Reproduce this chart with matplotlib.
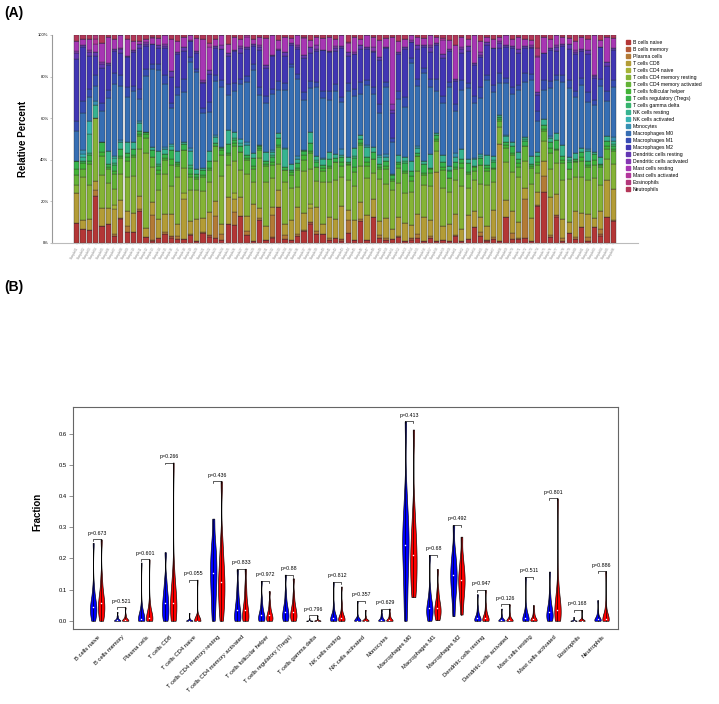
import numpy as np
import matplotlib.pyplot as plt
from matplotlib.colors import hsv_to_rgb
from matplotlib.lines import Line2D

plt.rcParams['font.family'] = ['Liberation Sans', 'DejaVu Sans']

cell_types = ["B cells naive", "B cells memory", "Plasma cells", "T cells CD8",
              "T cells CD4 naive", "T cells CD4 memory resting", "T cells CD4 memory activated",
              "T cells follicular helper", "T cells regulatory (Tregs)", "T cells gamma delta",
              "NK cells resting", "NK cells activated", "Monocytes", "Macrophages M0",
              "Macrophages M1", "Macrophages M2", "Dendritic cells resting",
              "Dendritic cells activated", "Mast cells resting", "Mast cells activated",
              "Eosinophils", "Neutrophils"]

# ---- panel A: relative percent per sample (%)
b_naive = [10,7,7,25,9,11,4,13,6,6, 17,3,1,3,5,3,2,2,5,1, 7,3,3,2,11,11,15,5,1,14,
           2,3,21,2,2,4,7,11,5,5, 2,3,1,6,2,11,2,15,3,2, 2,3,1,2,3,1,3,1,2,1,
           4,1,2,10,4,1,2,1,15,2, 2,3,1,23,26,3,15,1,6,2, 9,1,10,4,15,13]
b_memory = [0,0,0,0,0,0,0,1,0,0, 0,0,1,0,0,1,0,0,0,0, 0,1,0,0,0,0,0,0,0,0,
            0,1,0,0,0,0,0,1,0,0, 0,0,1,0,0,0,0,0,0,0, 0,0,0,1,0,0,0,0,0,0,
            0,0,0,0,0,1,0,0,0,0, 0,0,0,0,0,0,1,0,0,0, 0,0,0,1,0,0]
plasma = [0,0,0,3,0,0,1,0,3,0, 1,0,14,0,1,0,2,0,1,0, 1,0,12,3,0,8,0,2,0,1,
          0,13,0,2,0,1,1,0,2,0, 1,0,0,8,0,1,0,0,2,1, 0,1,0,0,2,0,1,0,0,0,
          1,0,0,0,2,0,1,0,0,3, 1,21,0,1,8,1,0,2,0,1, 0,2,0,3,0,1]
cd8 = [15,5,6,5,9,9,14,10,8,10, 7,5,8,12,10,12,6,20,8,14, 10,12,8,6,15,8,10,9,20,6,
       8,5,10,6,12,16,10,8,14,6, 12,10,18,6,11,8,14,10,8,12, 6,10,9,8,12,14,10,33,8,10,
       12,6,14,10,8,8,15,46,10,12, 9,6,14,8,8,20,12,10,6,14, 8,12,6,10,22,18]
cd4_naive = [0,0,0,0,0,0,2,0,0,0, 0,0,0,0,0,0,0,3,0,0, 0,0,0,0,0,4,0,0,0,0,
             0,0,0,0,0,0,0,2,0,0, 0,0,0,0,0,0,0,0,0,0, 0,0,0,0,0,0,0,0,0,0,
             0,0,0,0,0,0,0,0,0,0, 0,0,0,0,0,0,0,0,0,0, 0,0,0,0,0,0]
cd4_mem_rest = [4,22,18,33,17,14,9,14,18,20, 25,40,20,18,22,15,25,12,20,18, 20,15,22,28,18,20,15,25,12,30,
                25,18,15,22,20,12,25,20,15,25, 20,22,15,18,20,18,22,15,25,20, 22,18,15,20,25,18,20,10,22,18,
                20,22,15,20,18,25,15,8,22,20, 25,15,20,12,10,15,18,22,25,18, 20,18,25,15,12,15]
cd4_mem_act = [5,4,11,0,10,8,8,9,9,10, 7,8,6,10,8,12,6,9,8,7, 10,6,8,12,6,9,10,8,7,5,
               9,8,10,6,8,10,7,9,8,6, 8,10,6,9,8,10,7,8,6,9, 5,8,10,7,9,6,8,5,10,8,
               7,9,8,6,10,8,7,3,8,9, 6,8,10,5,5,8,7,9,6,8, 9,7,8,10,6,8]
tfh = [3,3,2,0,2,1,2,1,2,1, 1,2,0,2,1,3,1,0,2,1, 2,1,0,3,1,2,0,1,2,1,
       1,2,1,0,2,1,3,1,0,2, 1,0,2,1,3,1,2,0,1,2, 1,2,1,3,0,1,2,1,2,0,
       1,3,1,2,0,2,1,1,2,1, 2,0,1,2,1,3,1,2,0,1, 2,1,3,1,2,1]
tregs = [4,1,3,0,5,2,3,4,2,3, 2,1,4,3,2,5,1,3,4,2, 3,4,2,1,5,2,3,2,4,1,
         2,3,4,2,1,3,2,5,3,2, 4,2,3,1,5,2,3,4,2,3, 2,1,4,3,2,5,1,2,3,4,
         3,2,5,1,4,2,3,1,2,4, 2,3,1,4,2,3,5,2,4,1, 3,2,4,1,3,2]
t_gd = [0,0,1,0,0,0,1,0,0,0, 0,0,0,1,0,0,0,0,2,0, 0,0,0,0,0,1,0,0,0,0,
        0,1,0,0,0,0,0,0,1,0, 0,0,0,0,1,0,0,0,0,0, 0,0,1,0,0,0,0,0,0,1,
        0,0,0,0,0,0,1,0,0,0, 0,1,0,0,0,0,0,0,1,0, 0,0,0,0,0,1]
nk_rest = [0,2,10,7,0,7,3,4,6,4, 4,0,2,8,3,2,6,1,9,3, 2,5,3,1,8,4,2,6,3,1,
           5,2,3,9,4,2,1,6,2,3, 4,2,1,3,5,2,6,3,4,2, 1,4,2,6,3,2,8,1,4,2,
           3,5,2,4,1,6,2,1,3,2, 4,1,5,2,3,2,4,6,2,3, 2,5,1,4,3,2]
nk_act = [0,2,7,0,0,0,1,0,0,0, 0,0,0,0,0,1,0,0,0,0, 0,0,0,0,0,0,2,0,0,0,
          0,0,0,1,0,0,0,0,0,0, 0,0,0,0,0,0,0,0,1,0, 0,0,0,0,0,0,0,0,0,0,
          0,0,0,0,1,0,0,0,0,0, 0,0,0,0,0,0,0,0,0,0, 0,0,0,0,0,0]
mono = [0,2,0,2,0,0,0,1,0,0, 1,0,0,0,1,0,0,0,2,0, 0,0,1,0,0,0,0,2,0,0,
        0,1,0,0,0,2,0,0,0,1, 0,0,3,0,0,0,1,0,0,2, 0,0,0,0,1,0,0,0,0,0,
        2,0,0,1,0,0,0,0,1,0, 0,0,0,0,0,1,0,0,0,0, 0,1,0,0,0,2]
mac_m0 = [15,19,13,8,16,30,40,30,24,27, 12,30,45,50,35,20,30,25,55,60, 40,20,30,35,20,25,30,35,45,30,
          28,35,25,30,60,45,30,25,40,35, 30,35,25,40,30,20,35,30,25,40, 18,30,25,60,35,50,40,20,30,45,
          25,30,40,35,30,45,35,15,30,25, 35,30,45,20,15,25,30,35,40,30, 35,25,30,40,20,30]
mac_m1 = [5,6,4,6,4,5,6,6,5,3, 5,4,3,4,5,3,4,6,3,2, 4,5,3,4,6,5,3,4,3,5,
          4,3,5,4,2,3,5,4,3,4, 5,4,3,5,4,6,3,4,5,3, 2,4,5,3,4,3,5,6,4,3,
          4,5,3,4,6,3,4,5,3,4, 3,5,4,6,5,4,3,4,5,3, 4,5,3,4,6,4]
mac_m2 = [31,28,18,10,18,14,12,12,16,18, 22,12,12,10,15,14,18,14,10,10, 18,14,15,18,16,20,14,16,10,22,
          16,20,18,14,12,15,20,16,18,24, 22,18,26,16,20,16,18,20,26,20, 14,20,24,10,18,12,16,16,22,18,
          14,14,18,20,16,18,20,12,18,20, 18,14,15,10,14,16,14,16,18,20, 15,20,14,18,15,18]
dc_rest = [3,1,2,2,2,1,1,2,1,1, 2,1,0,2,1,3,1,2,0,1, 1,2,1,0,2,1,3,1,1,2,
           2,1,0,2,1,1,2,3,1,0, 1,2,1,3,0,2,1,1,2,1, 2,1,1,0,2,1,3,1,2,1,
           1,2,3,1,1,2,0,2,1,1, 2,1,1,2,0,1,2,1,3,1, 1,2,1,0,2,1]
dc_act = [1,0,1,0,1,0,0,1,0,0, 0,1,0,0,1,0,0,0,1,0, 1,0,0,2,0,0,1,0,0,1,
          0,0,1,0,0,1,0,0,2,0, 0,1,0,0,1,0,0,2,0,0, 3,0,0,1,0,0,1,0,0,0,
          0,1,0,0,2,0,0,1,0,0, 0,0,1,0,0,0,1,0,0,1, 0,0,1,0,0,0]
mast_rest = [5,3,6,4,10,15,6,7,9,5, 2,2,3,4,5,18,6,5,3,8, 30,12,4,6,5,8,4,6,3,5,
             15,12,5,8,3,6,10,4,5,7, 8,4,6,5,9,3,7,6,10,5, 38,6,4,3,5,4,6,3,8,5,
             20,5,4,18,6,3,5,2,6,4, 7,4,3,22,8,5,6,4,3,5, 7,6,25,4,15,6]
mast_act = [0,0,0,3,0,0,0,0,0,0, 0,0,1,0,0,0,0,0,0,0, 0,2,0,0,0,0,0,1,0,0,
            0,0,0,0,0,0,1,0,0,0, 0,0,0,1,0,0,0,0,0,0, 0,0,0,0,0,0,0,0,1,0,
            0,0,0,0,0,0,0,0,0,0, 0,0,0,1,0,0,0,0,0,0, 0,0,0,0,0,0]
eosin = [0,0,0,2,0,0,0,0,0,0, 0,0,0,0,0,0,0,0,0,0, 0,0,0,0,0,0,0,0,0,0,
         0,0,0,0,0,0,0,0,0,0, 0,0,0,0,0,0,0,0,0,0, 0,0,0,0,0,0,0,0,0,0,
         0,0,0,0,0,0,0,0,0,0, 0,0,0,5,0,0,0,0,0,0, 0,0,0,0,0,0]
neutro = [3,2,2,0,4,1,2,0,2,3, 3,2,1,2,0,2,3,1,0,2, 3,4,2,0,5,1,2,0,2,1,
          2,0,3,1,2,0,1,3,1,2, 1,2,0,4,1,2,0,1,3,2, 1,3,2,0,1,2,0,1,2,3,
          6,1,2,0,3,1,2,1,0,2, 1,2,3,8,1,2,0,1,2,3, 1,2,0,3,1,2]

panel_a = [b_naive, b_memory, plasma, cd8, cd4_naive, cd4_mem_rest, cd4_mem_act, tfh, tregs,
           t_gd, nk_rest, nk_act, mono, mac_m0, mac_m1, mac_m2, dc_rest, dc_act,
           mast_rest, mast_act, eosin, neutro]
n_samples = len(b_naive)
sample_names = ["Sample%02d" % (k + 1) for k in range(n_samples)]

# ---- panel B: fraction per group (normal = blue, tumor = red)
normal = [
    [0.0, 0.01, 0.02, 0.03, 0.038, 0.044, 0.052, 0.062, 0.078, 0.11, 0.25],
    [0, 0, 0, 0, 0, 0.001, 0.003, 0.006, 0.01, 0.016, 0.028],
    [0, 0, 0, 0.002, 0.004, 0.006, 0.01, 0.016, 0.026, 0.05, 0.187],
    [0, 0.008, 0.02, 0.032, 0.045, 0.057, 0.07, 0.085, 0.105, 0.135, 0.22],
    [0, 0, 0, 0, 0, 0, 0, 0, 0.003, 0.008, 0.025],
    [0.0, 0.04, 0.075, 0.105, 0.13, 0.153, 0.175, 0.2, 0.225, 0.26, 0.328],
    [0, 0, 0.005, 0.015, 0.025, 0.035, 0.045, 0.06, 0.08, 0.11, 0.165],
    [0, 0, 0.002, 0.008, 0.012, 0.017, 0.024, 0.033, 0.047, 0.07, 0.128],
    [0, 0.002, 0.008, 0.015, 0.022, 0.028, 0.036, 0.047, 0.062, 0.09, 0.148],
    [0, 0, 0, 0, 0, 0, 0, 0, 0, 0.002, 0.008],
    [0, 0, 0, 0.002, 0.005, 0.008, 0.012, 0.018, 0.028, 0.05, 0.124],
    [0, 0, 0, 0, 0, 0, 0, 0.002, 0.006, 0.015, 0.063],
    [0, 0, 0, 0, 0.001, 0.003, 0.006, 0.01, 0.015, 0.022, 0.035],
    [0.0, 0.06, 0.12, 0.17, 0.21, 0.242, 0.27, 0.30, 0.34, 0.41, 0.64],
    [0, 0.008, 0.017, 0.026, 0.033, 0.04, 0.048, 0.058, 0.072, 0.1, 0.211],
    [0.015, 0.06, 0.09, 0.11, 0.13, 0.146, 0.16, 0.18, 0.2, 0.23, 0.307],
    [0, 0, 0, 0.002, 0.005, 0.008, 0.012, 0.018, 0.027, 0.042, 0.085],
    [0, 0, 0, 0, 0, 0.001, 0.003, 0.006, 0.01, 0.018, 0.039],
    [0, 0, 0, 0.002, 0.005, 0.008, 0.012, 0.018, 0.028, 0.045, 0.14],
    [0, 0.002, 0.008, 0.015, 0.022, 0.028, 0.036, 0.046, 0.06, 0.085, 0.158],
    [0, 0, 0, 0, 0, 0, 0, 0, 0.001, 0.004, 0.012],
    [0, 0, 0, 0.001, 0.003, 0.005, 0.008, 0.012, 0.018, 0.03, 0.066],
]
tumor = [
    [0.0, 0.012, 0.024, 0.035, 0.046, 0.056, 0.066, 0.08, 0.1, 0.14, 0.261],
    [0, 0, 0, 0, 0, 0.002, 0.004, 0.007, 0.012, 0.02, 0.043],
    [0, 0, 0.002, 0.004, 0.007, 0.01, 0.015, 0.022, 0.035, 0.06, 0.197],
    [0, 0.008, 0.02, 0.033, 0.046, 0.057, 0.07, 0.088, 0.115, 0.16, 0.508],
    [0, 0, 0, 0, 0, 0, 0, 0, 0, 0.004, 0.132],
    [0.0, 0.03, 0.06, 0.085, 0.105, 0.126, 0.148, 0.175, 0.21, 0.26, 0.448],
    [0, 0, 0.006, 0.016, 0.026, 0.035, 0.046, 0.062, 0.085, 0.115, 0.167],
    [0, 0, 0.003, 0.008, 0.013, 0.017, 0.023, 0.03, 0.042, 0.06, 0.095],
    [0, 0.003, 0.009, 0.016, 0.022, 0.028, 0.036, 0.046, 0.06, 0.085, 0.136],
    [0, 0, 0, 0, 0, 0, 0, 0, 0.002, 0.006, 0.017],
    [0, 0, 0, 0.002, 0.005, 0.008, 0.012, 0.018, 0.03, 0.055, 0.11],
    [0, 0, 0, 0, 0, 0, 0.001, 0.003, 0.007, 0.014, 0.035],
    [0, 0, 0, 0, 0.001, 0.003, 0.006, 0.01, 0.016, 0.024, 0.039],
    [0.076, 0.1, 0.13, 0.16, 0.185, 0.21, 0.235, 0.265, 0.3, 0.36, 0.614],
    [0.002, 0.01, 0.019, 0.027, 0.035, 0.042, 0.05, 0.06, 0.075, 0.1, 0.166],
    [0.02, 0.055, 0.08, 0.1, 0.115, 0.13, 0.145, 0.16, 0.18, 0.21, 0.27],
    [0, 0, 0, 0.002, 0.005, 0.009, 0.014, 0.02, 0.03, 0.048, 0.099],
    [0, 0, 0, 0, 0, 0.001, 0.003, 0.007, 0.012, 0.022, 0.053],
    [0, 0, 0, 0.002, 0.004, 0.007, 0.011, 0.016, 0.024, 0.035, 0.05],
    [0, 0.004, 0.012, 0.02, 0.028, 0.036, 0.046, 0.06, 0.08, 0.12, 0.393],
    [0, 0, 0, 0, 0, 0, 0, 0, 0.002, 0.008, 0.035],
    [0, 0, 0, 0.001, 0.003, 0.006, 0.01, 0.016, 0.026, 0.05, 0.159],
]
p_values = ["0.673", "0.521", "0.601", "0.266", "0.055", "0.436", "0.833", "0.972", "0.88",
            "0.796", "0.812", "0.357", "0.629", "0.413", "0.68", "0.492", "0.947", "0.126",
            "0.511", "0.801", "0.168", "0.886"]

# R's rainbow(22, s=0.7, v=0.7)
colors = [hsv_to_rgb([k / 22, 0.7, 0.7]) for k in range(22)]

W, H = 719, 704
fig = plt.figure(figsize=(W / 100, H / 100), dpi=100)

# ================= (A) stacked bars =================
frac = np.array(panel_a, dtype=float)
frac = frac / frac.sum(axis=0)
xpos = 0.7 + 1.2 * np.arange(n_samples)
span = 1.2 * n_samples - 0.2
unit = 542 / span
pad = 22 / unit

axA = fig.add_axes([52 / W, 1 - 243 / H, 586 / W, 208 / H])
bottom = np.zeros(n_samples)
for j in range(22):
    axA.bar(xpos, frac[j], bottom=bottom, width=1, color=colors[j],
            edgecolor='#2a2a2a', linewidth=0.25)
    bottom += frac[j]
axA.set_xlim(0.2 - pad, 1.2 * n_samples + pad)
axA.set_ylim(0, 1)
for s in ['top', 'right']:
    axA.spines[s].set_visible(False)
axA.spines['left'].set_color('#999999')
axA.spines['bottom'].set_color('#bbbbbb')
axA.spines['left'].set_linewidth(0.8)
axA.spines['bottom'].set_linewidth(0.8)
axA.set_yticks([0, 0.2, 0.4, 0.6, 0.8, 1.0])
axA.set_yticklabels(["0%", "20%", "40%", "60%", "80%", "100%"])
axA.tick_params(axis='y', length=1.5, width=0.4, color='#999999', labelsize=3, pad=1)
axA.set_xticks(xpos)
axA.set_xticklabels(sample_names, rotation=60, ha='right', rotation_mode='anchor',
                    fontsize=2.2, color='#888888')
axA.tick_params(axis='x', length=1.2, width=0.3, color='#bbbbbb', pad=1)

handles = [Line2D([], [], marker='s', linestyle='none', markersize=2.2, color=colors[j])
           for j in range(22)]
fig.legend(handles, cell_types, loc='upper left', bbox_to_anchor=(626 / W, 1 - 40 / H),
           frameon=False, fontsize=3.7, handlelength=0.8, handletextpad=0.5,
           labelspacing=0.39, borderpad=0, borderaxespad=0)

fig.text(23 / W, 1 - 139 / H, "Relative Percent", rotation=90, ha='center', va='center',
         fontsize=7, fontweight='bold')
fig.text(4 / W, 1 - 13 / H, "(A)", ha='left', va='center', fontsize=10, fontweight='bold')

# ================= (B) violins =================
axB = fig.add_axes([73 / W, 1 - 629 / H, 544.7 / W, 222 / H])
for i in range(22):
    pb, pr = 3 * i, 3 * i + 1
    for pos, vals, col in ((pb, normal[i], 'blue'), (pr, tumor[i], 'red')):
        parts = axB.violinplot([vals], positions=[pos], widths=0.8, showextrema=False,
                               bw_method=0.35)
        for body in parts['bodies']:
            body.set_facecolor(col)
            body.set_edgecolor('black')
            body.set_linewidth(0.45)
            body.set_alpha(1)
        axB.plot([pos, pos], [min(vals), max(vals)], color='black', lw=0.45)
        axB.scatter([pos], [np.median(vals)], s=1.2, color='white', zorder=4, linewidths=0)
    mx = max(max(normal[i]), max(tumor[i]))
    axB.plot([pb, pb, pr, pr], [mx - 0.006, mx, mx, mx - 0.006], color='black', lw=0.45)
    axB.text(pb + 0.5, mx + 0.02, "p=" + p_values[i], ha='center', va='center', fontsize=3.8)
    axB.text(3 * i + 0.8, -0.05, cell_types[i], rotation=45, ha='right', va='center',
             rotation_mode='anchor', fontsize=4.2, clip_on=False)

axB.set_xlim(-2.52, 65.52)
axB.set_ylim(-0.0264, 0.6864)
axB.set_xticks([])
axB.set_yticks([0, 0.1, 0.2, 0.3, 0.4, 0.5, 0.6])
axB.set_yticklabels(["0.0", "0.1", "0.2", "0.3", "0.4", "0.5", "0.6"])
axB.tick_params(axis='y', length=3, width=0.5, color='#666666', labelsize=4.2, pad=1.5)
for s in axB.spines.values():
    s.set_color('#666666')
    s.set_linewidth(0.8)

fig.text(37 / W, 1 - 512 / H, "Fraction", rotation=90, ha='center', va='center',
         fontsize=7, fontweight='bold')
fig.text(4 / W, 1 - 287 / H, "(B)", ha='left', va='center', fontsize=10, fontweight='bold')

fig.savefig("out.png", dpi=100)
